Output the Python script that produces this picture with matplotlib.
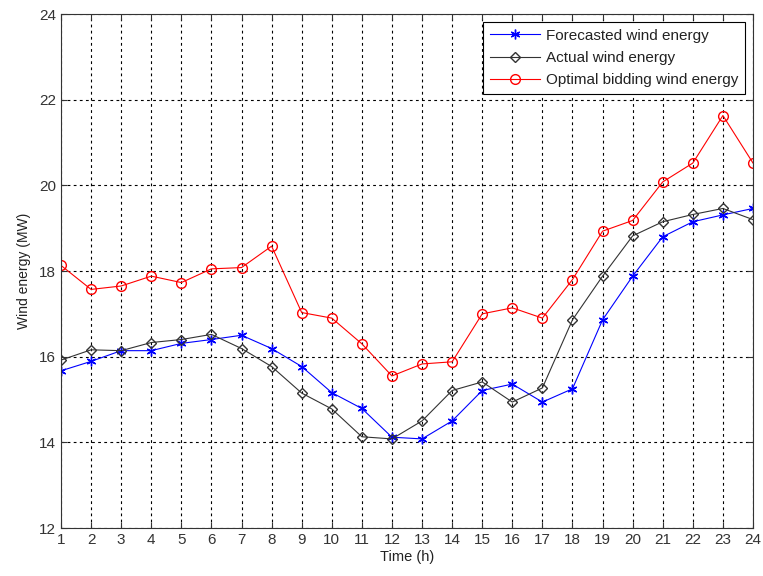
import matplotlib
matplotlib.use("Agg")
import matplotlib.pyplot as plt

plt.rcParams['font.family'] = ['Liberation Sans', 'DejaVu Sans']

hours = list(range(1, 25))
forecast = [15.67, 15.89, 16.14, 16.14, 16.31, 16.40, 16.50, 16.19, 15.77, 15.16,
            14.79, 14.12, 14.08, 14.50, 15.21, 15.36, 14.94, 15.25, 16.86, 17.88,
            18.80, 19.15, 19.31, 19.46]
actual = [15.92, 16.16, 16.14, 16.33, 16.40, 16.52, 16.19, 15.77, 15.15, 14.78,
          14.13, 14.08, 14.50, 15.21, 15.41, 14.94, 15.27, 16.86, 17.88, 18.82,
          19.15, 19.32, 19.46, 19.20]
optimal = [18.13, 17.57, 17.65, 17.88, 17.73, 18.05, 18.08, 18.58, 17.03, 16.90,
           16.30, 15.55, 15.83, 15.88, 17.00, 17.14, 16.90, 17.80, 18.93, 19.18,
           20.08, 20.52, 21.63, 20.52]

fig = plt.figure(figsize=(7.63, 5.76), dpi=100)
ax = fig.add_axes([61 / 763, 1 - 528 / 576, 692 / 763, 514 / 576])

ax.plot(hours, forecast, color='blue', marker=(6, 2, 0), markersize=7,
        markeredgewidth=1.0, linewidth=0.8, label='Forecasted wind energy')
ax.plot(hours, actual, color='#333333', marker='D', markersize=5.5, linewidth=0.8,
        markerfacecolor='none', label='Actual wind energy')
ax.plot(hours, optimal, color='red', marker='o', markersize=7, linewidth=0.8,
        markerfacecolor='none', label='Optimal bidding wind energy')

ax.set_xlim(1, 24)
ax.set_ylim(12, 24)
ax.set_xticks(hours)
ax.set_yticks(range(12, 25, 2))
ax.grid(True, color='black', linestyle=(0, (2.5, 3)), linewidth=0.8)
ax.tick_params(direction='in', labelsize=11, colors='#333333', length=4,
               top=True, right=True)
for s in ax.spines.values():
    s.set_color('#333333')

ax.set_xlabel('Time (h)', fontsize=10.5, labelpad=2, color='#222222')
ax.set_ylabel('Wind energy (MW)', fontsize=10, labelpad=6, color='#222222')

leg = ax.legend(loc='upper right', fontsize=11, fancybox=False, framealpha=1,
                edgecolor='black', borderpad=0.45, labelspacing=0.55,
                handlelength=3.3, handletextpad=0.4, borderaxespad=0.5)
leg.get_frame().set_linewidth(0.8)
for t in leg.get_texts():
    t.set_color('#222222')

fig.savefig('out.png', dpi=100)
